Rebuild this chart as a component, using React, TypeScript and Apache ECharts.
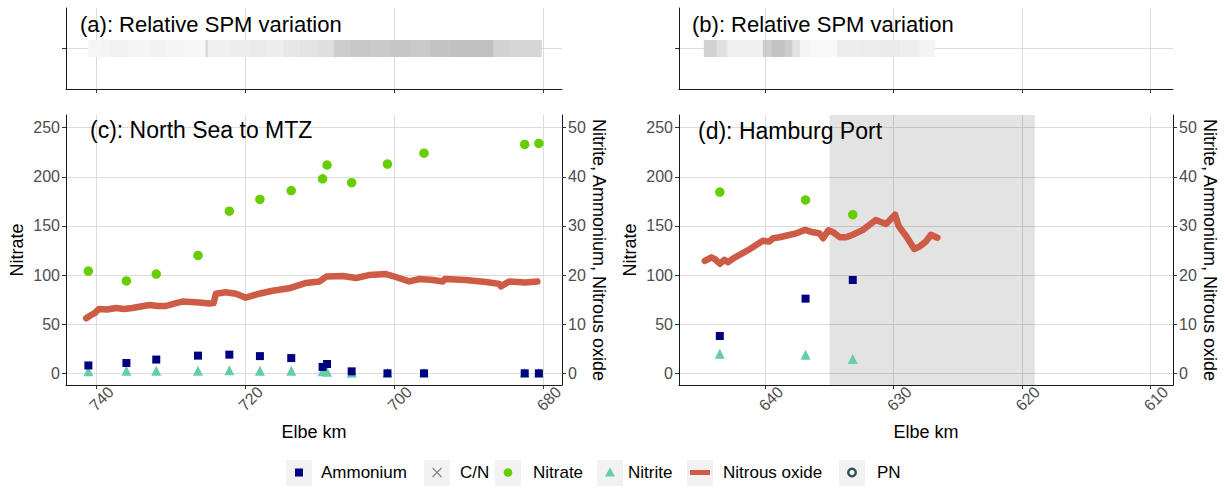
import React, { useEffect, useRef } from "react";
import * as echarts from "echarts";

const FONT = "'Liberation Sans', Arial, Helvetica, sans-serif";

// ---------------- Data ----------------
// Axis ticks
const kmTicksC = [740, 720, 700, 680];
const kmTicksD = [640, 630, 620, 610];
const nitrateTicks = [0, 50, 100, 150, 200, 250];
const secondaryTicks = [0, 10, 20, 30, 40, 50];

// Panel (c): North Sea to MTZ — discrete samples
const sampleKmC = [741.0, 735.9, 731.9, 726.3, 722.1, 718.0, 713.8, 709.6, 709.0, 705.7, 700.9, 696.0, 682.5, 680.6];
const nitrateC = [104, 94, 101, 120, 165, 177, 186, 198, 212, 194, 213, 224, 233, 234];
const ammoniumC = [1.6, 2.1, 2.8, 3.6, 3.8, 3.5, 3.1, 1.3, 1.9, 0.4, 0.0, 0.0, 0.0, 0.0];
const nitriteC = [0.4, 0.5, 0.5, 0.5, 0.6, 0.5, 0.5, 0.4, 0.3, 0.1, 0.1, 0.1, 0.1, 0.1];

// Panel (c): nitrous oxide track
const n2oKmC = [741.3, 740.6, 740.2, 739.6, 738.5, 737.3, 736.2, 735.1, 734.0, 732.8, 731.7, 730.6, 729.5, 728.4, 727.2, 726.1, 724.8, 724.2, 723.9, 722.6, 721.2, 719.9, 719.0, 718.1, 716.3, 714.1, 711.8, 710.0, 709.1, 706.9, 705.1, 703.4, 701.1, 700.2, 698.0, 696.6, 694.8, 693.5, 693.2, 690.4, 687.7, 685.9, 685.7, 684.6, 682.4, 680.8];
const n2oC = [11.2, 11.9, 12.2, 13.1, 13.0, 13.3, 13.1, 13.3, 13.6, 13.9, 13.7, 13.7, 14.2, 14.6, 14.5, 14.4, 14.2, 14.3, 16.2, 16.5, 16.2, 15.4, 15.8, 16.2, 16.8, 17.3, 18.4, 18.7, 19.7, 19.8, 19.4, 20.0, 20.2, 19.8, 18.7, 19.2, 19.0, 18.7, 19.2, 19.0, 18.6, 18.2, 17.7, 18.7, 18.5, 18.7];

// Panel (d): Hamburg Port — discrete samples
const sampleKmD = [643.55, 636.87, 633.19];
const nitrateD = [184.5, 176.4, 161.4];
const ammoniumD = [7.6, 15.2, 19.0];
const nitriteD = [4.0, 3.8, 2.9];

// Panel (d): nitrous oxide track
const n2oKmD = [644.72, 644.2, 643.9, 643.55, 643.2, 642.9, 642.5, 641.2, 640.2, 639.7, 639.4, 638.9, 638.4, 637.6, 636.9, 636.3, 635.8, 635.5, 635.1, 634.7, 634.2, 633.7, 633.2, 632.4, 631.4, 630.6, 629.9, 629.6, 629.0, 628.4, 628.0, 627.5, 627.1, 626.6];
const n2oD = [22.9, 23.6, 23.2, 22.3, 23.1, 22.6, 23.4, 25.3, 27.0, 26.8, 27.5, 27.7, 28.0, 28.5, 29.2, 28.7, 28.5, 27.5, 29.1, 28.7, 27.7, 27.7, 28.2, 29.2, 31.2, 30.4, 32.3, 29.9, 27.8, 25.3, 25.8, 26.8, 28.2, 27.6];

// Panel (d): highlighted port section (km from, km to)
const portSectionKm = [[635, 619]];

// Panels (a) and (b): relative SPM variation (segment boundaries in km, relative value per segment)
const spmKmA = [741.0, 739.3, 738.0, 735.7, 732.6, 730.6, 728.2, 725.3, 725.0, 721.9, 719.3, 717.2, 714.8, 712.6, 710.1, 708.1, 705.9, 703.2, 700.5, 697.8, 695.2, 692.5, 689.8, 686.7, 684.4, 680.3];
const spmA = [0.06, 0.10, 0.14, 0.08, 0.12, 0.07, 0.05, 0.55, 0.17, 0.20, 0.24, 0.20, 0.30, 0.36, 0.42, 0.70, 0.78, 0.74, 0.80, 0.76, 0.85, 0.88, 0.90, 0.60, 0.55];
const spmKmB = [644.8, 643.8, 643.0, 640.2, 639.5, 638.5, 637.9, 637.3, 636.5, 634.4, 632.7, 631.1, 629.5, 628.0, 626.8];
const spmB = [0.62, 0.40, 0.15, 0.70, 0.85, 0.70, 0.35, 0.08, 0.03, 0.20, 0.22, 0.25, 0.18, 0.10];

// ---------------- Helpers ----------------
const zip = (xs: number[], ys: number[]) => xs.map((x, i) => [x, ys[i]]);
const segs = (kms: number[], vals: number[]) => vals.map((v, i) => [kms[i], kms[i + 1], v]);

const COLORS = {
  ammonium: "#000080",
  nitrate: "#66CD00",
  nitrite: "#66CDAA",
  n2o: "#CD5B45",
  pn: "#2F4F4F",
  cn: "#8a8a8a",
};

const axisLine = { show: true, onZero: false, lineStyle: { color: "#1a1a1a", width: 1 } };
const tick = (vals: number[]) => ({ show: true, customValues: vals, length: 4, lineStyle: { color: "#333", width: 1 } });
const grid = { show: true, lineStyle: { color: "#dcdcdc", width: 1 } };
const tickLabel = { color: "#4d4d4d", fontSize: 16, fontFamily: FONT };
const nameStyle = { color: "#000", fontSize: 18, fontFamily: FONT };

const renderSpm = (params: any, api: any) => {
  const s = api.coord([api.value(0), 1]);
  const e = api.coord([api.value(1), 1]);
  const h = api.size([0, 0.42])[1];
  const g = Math.round(250 - 65 * api.value(2));
  return {
    type: "rect",
    shape: { x: Math.min(s[0], e[0]), y: s[1] - h / 2, width: Math.abs(e[0] - s[0]) + 0.6, height: h },
    style: { fill: `rgb(${g},${g},${g})` },
  };
};

const renderShade = (params: any, api: any) => {
  const x1 = api.coord([api.value(0), 0])[0];
  const x2 = api.coord([api.value(1), 0])[0];
  const cs = params.coordSys;
  return {
    type: "rect",
    shape: { x: Math.min(x1, x2), y: cs.y, width: Math.abs(x2 - x1), height: cs.height },
    style: { fill: "rgba(0,0,0,0.11)" },
  };
};

function buildOption() {
  const xTop = (gi: number, min: number, max: number, ticks: number[]) => ({
    gridIndex: gi, type: "value", min, max, inverse: true,
    axisLine, axisTick: tick(ticks), splitLine: grid,
    axisLabel: { show: false, customValues: ticks },
  });
  const xMain = (gi: number, min: number, max: number, ticks: number[]) => ({
    gridIndex: gi, type: "value", min, max, inverse: true,
    axisLine, axisTick: tick(ticks), splitLine: grid,
    axisLabel: { ...tickLabel, customValues: ticks, rotate: 45, align: "center", verticalAlign: "top", margin: 8 },
    name: "Elbe km", nameLocation: "middle", nameGap: 38, nameTextStyle: nameStyle,
  });
  const yTop = (gi: number) => ({
    gridIndex: gi, type: "value", min: 0, max: 2,
    axisLine, axisTick: tick([1]), splitLine: grid, axisLabel: { show: false, customValues: [1] },
  });
  const yLeft = (gi: number) => ({
    gridIndex: gi, type: "value", min: -11.9, max: 262.9, position: "left",
    axisLine, axisTick: tick(nitrateTicks), splitLine: grid,
    axisLabel: { ...tickLabel, customValues: nitrateTicks, margin: 6 },
    name: "Nitrate", nameLocation: "middle", nameGap: 40, nameTextStyle: nameStyle,
  });
  const yRight = (gi: number) => ({
    gridIndex: gi, type: "value", min: -2.38, max: 52.58, position: "right",
    axisLine, axisTick: tick(secondaryTicks), splitLine: { show: false },
    axisLabel: { ...tickLabel, customValues: secondaryTicks, margin: 6 },
    name: "Nitrite, Ammonium, Nitrous oxide", nameLocation: "middle", nameRotate: -90, nameGap: 28,
    nameTextStyle: nameStyle,
  });

  const panelSeries = (xi: number, yl: number, yr: number, kmS: number[], nitrate: number[], nitrite: number[], ammonium: number[], kmN: number[], n2o: number[]) => [
    {
      type: "line", name: "Nitrous oxide", xAxisIndex: xi, yAxisIndex: yr, data: zip(kmN, n2o),
      showSymbol: false, symbol: "none", lineStyle: { color: COLORS.n2o, width: 6.5, cap: "round", join: "round" },
      itemStyle: { color: COLORS.n2o }, z: 3,
    },
    {
      type: "scatter", name: "Nitrate", xAxisIndex: xi, yAxisIndex: yl, data: zip(kmS, nitrate),
      symbol: "circle", symbolSize: 9.5, itemStyle: { color: COLORS.nitrate, opacity: 1 }, z: 4,
    },
    {
      type: "scatter", name: "Nitrite", xAxisIndex: xi, yAxisIndex: yr, data: zip(kmS, nitrite),
      symbol: "triangle", symbolSize: 10, itemStyle: { color: COLORS.nitrite, opacity: 1 }, z: 4,
    },
    {
      type: "scatter", name: "Ammonium", xAxisIndex: xi, yAxisIndex: yr, data: zip(kmS, ammonium),
      symbol: "rect", symbolSize: 8, itemStyle: { color: COLORS.ammonium, opacity: 1 }, z: 5,
    },
  ];

  // Legend drawn as graphic keys (ggplot-like grey key boxes)
  const keyY = 460, keyS = 26, cy = 472.5;
  const keys = [
    { name: "Ammonium", bx: 286, tx: 321 },
    { name: "C/N", bx: 424, tx: 460 },
    { name: "Nitrate", bx: 495, tx: 533 },
    { name: "Nitrite", bx: 597, tx: 628 },
    { name: "Nitrous oxide", bx: 687, tx: 723 },
    { name: "PN", bx: 839, tx: 877 },
  ];
  const legendEls: any[] = [];
  keys.forEach((k) => {
    legendEls.push({ type: "rect", shape: { x: k.bx, y: keyY, width: keyS, height: keyS }, style: { fill: "#f2f2f2" }, silent: true });
    const cx = k.bx + keyS / 2;
    if (k.name === "Ammonium") legendEls.push({ type: "rect", shape: { x: cx - 4, y: cy - 4, width: 8, height: 8 }, style: { fill: COLORS.ammonium } });
    if (k.name === "C/N") {
      legendEls.push({ type: "line", shape: { x1: cx - 4.5, y1: cy - 4.5, x2: cx + 4.5, y2: cy + 4.5 }, style: { stroke: COLORS.cn, lineWidth: 1.2 } });
      legendEls.push({ type: "line", shape: { x1: cx - 4.5, y1: cy + 4.5, x2: cx + 4.5, y2: cy - 4.5 }, style: { stroke: COLORS.cn, lineWidth: 1.2 } });
    }
    if (k.name === "Nitrate") legendEls.push({ type: "circle", shape: { cx, cy, r: 4.3 }, style: { fill: COLORS.nitrate } });
    if (k.name === "Nitrite") legendEls.push({ type: "polygon", shape: { points: [[cx, cy - 5], [cx - 5, cy + 4], [cx + 5, cy + 4]] }, style: { fill: COLORS.nitrite } });
    if (k.name === "Nitrous oxide") legendEls.push({ type: "rect", shape: { x: cx - 10, y: cy - 2.5, width: 20, height: 5 }, style: { fill: COLORS.n2o } });
    if (k.name === "PN") legendEls.push({ type: "circle", shape: { cx, cy, r: 3.8 }, style: { fill: "none", stroke: COLORS.pn, lineWidth: 2.4 } });
    legendEls.push({
      type: "text", x: k.tx, y: cy,
      style: { text: k.name, fill: "#000", fontSize: 17, fontFamily: FONT, align: "left", verticalAlign: "middle" },
    });
  });

  const titleEl = (text: string, x: number, y: number, size: number) => ({
    type: "text", x, y, z: 10,
    style: { text, fill: "#000", fontSize: size, fontFamily: FONT, align: "left", verticalAlign: "middle" },
  });

  return {
    animation: false,
    backgroundColor: "#ffffff",
    textStyle: { fontFamily: FONT },
    grid: [
      { left: 66, top: 8, width: 496, height: 81, containLabel: false, outerBoundsMode: "none" },
      { left: 679, top: 8, width: 494, height: 81, containLabel: false, outerBoundsMode: "none" },
      { left: 66, top: 115, width: 496, height: 270, containLabel: false, outerBoundsMode: "none" },
      { left: 679, top: 115, width: 494, height: 270, containLabel: false, outerBoundsMode: "none" },
    ],
    xAxis: [
      xTop(0, 677.5, 744, kmTicksC),
      xTop(1, 608.24, 646.73, kmTicksD),
      xMain(2, 677.5, 744, kmTicksC),
      xMain(3, 608.24, 646.73, kmTicksD),
    ],
    yAxis: [yTop(0), yTop(1), yLeft(2), yRight(2), yLeft(3), yRight(3)],
    series: [
      {
        type: "custom", name: "Relative SPM (a)", xAxisIndex: 0, yAxisIndex: 0,
        data: segs(spmKmA, spmA), renderItem: renderSpm, encode: { x: [0, 1] }, silent: true, z: 1,
      },
      {
        type: "custom", name: "Relative SPM (b)", xAxisIndex: 1, yAxisIndex: 1,
        data: segs(spmKmB, spmB), renderItem: renderSpm, encode: { x: [0, 1] }, silent: true, z: 1,
      },
      {
        type: "custom", name: "Hamburg Port section", xAxisIndex: 3, yAxisIndex: 4,
        data: portSectionKm, renderItem: renderShade, encode: { x: [0, 1] }, silent: true, z: 1,
      },
      ...panelSeries(2, 2, 3, sampleKmC, nitrateC, nitriteC, ammoniumC, n2oKmC, n2oC),
      ...panelSeries(3, 4, 5, sampleKmD, nitrateD, nitriteD, ammoniumD, n2oKmD, n2oD),
    ],
    graphic: [
      titleEl("(a): Relative SPM variation", 80, 24, 22),
      titleEl("(b): Relative SPM variation", 692, 24, 22),
      titleEl("(c): North Sea to MTZ", 90, 130, 23),
      titleEl("(d): Hamburg Port", 698, 131, 23),
      ...legendEls,
    ],
  };
}

export default function App() {
  const ref = useRef<HTMLDivElement>(null);
  useEffect(() => {
    if (!ref.current) return;
    const chart = echarts.init(ref.current, null, { renderer: "svg" });
    chart.setOption(buildOption() as any);
    return () => chart.dispose();
  }, []);
  return (
    <div
      ref={ref}
      style={{ position: "fixed", left: 0, top: 0, width: 1225, height: 488, background: "#ffffff" }}
    />
  );
}
